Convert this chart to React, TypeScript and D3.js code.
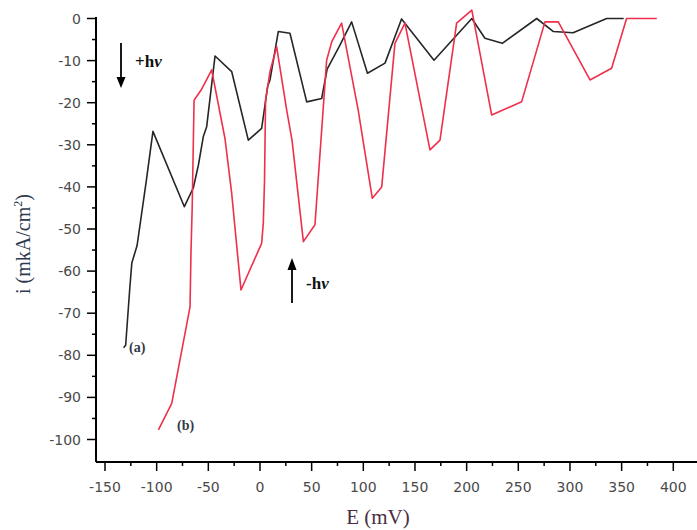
import * as d3 from "d3";

// curve (a) - black, E in mV, i in mkA/cm2
const curveA: [number, number][] = [
  [-132, -78.2], [-130, -77.6], [-126, -64], [-124, -58], [-119, -54], [-110, -38.5], [-103.6, -26.8],
  [-73.2, -44.7], [-64.5, -40.2], [-59.6, -34.8], [-54.9, -28.1], [-51.6, -25.7], [-43.5, -8.9],
  [-27.4, -12.6], [-11.3, -28.9], [1.6, -26.1], [7.5, -16], [9.7, -14.6], [17.7, -3.1],
  [29, -3.5], [45.2, -19.8], [59.7, -19], [65, -12], [77, -6.5], [88.7, -0.8],
  [104, -13], [121, -10.6], [137, -0.1], [168.4, -9.9], [205, 0], [217.7, -4.7],
  [234.5, -5.9], [267.8, 0], [284, -3.1], [303, -3.4], [335.5, 0], [352, 0],
];

// curve (b) - red
const curveB: [number, number][] = [
  [-98.3, -97.7], [-85.4, -91.4], [-67.7, -68.5], [-66.8, -55.7], [-65.6, -44.7], [-63.8, -19.4],
  [-57, -17], [-51.6, -14.5], [-46.8, -12.2], [-33.9, -28.5], [-27.4, -41.5], [-18.4, -64.5],
  [1.6, -53.4], [3.2, -48.6], [4.4, -38.4], [5.4, -19.4], [9.7, -12.6], [16.1, -6.7],
  [25.8, -21.7], [31, -28.9], [42, -53], [53.2, -49], [64.5, -9.9], [69.5, -5.5], [79, -1.1],
  [95, -21.7], [108.7, -42.7], [117.8, -40], [130.6, -5.9], [140.3, -1.1], [164.5, -31.2],
  [174.2, -28.9], [190.3, -1.1], [205, 2], [224.2, -22.9], [253.2, -19.8], [275.8, -0.8],
  [288.7, -0.8], [319.4, -14.6], [340.3, -11.8], [354.8, 0], [384, 0],
];

const xMajor = [-150, -100, -50, 0, 50, 100, 150, 200, 250, 300, 350, 400];
const xMinor = [-125, -75, -25, 25, 75, 125, 175, 225, 275, 325, 375];
const yMajor = [0, -10, -20, -30, -40, -50, -60, -70, -80, -90, -100];
const yMinor = [-5, -15, -25, -35, -45, -55, -65, -75, -85, -95];

const W = 697;
const H = 530;
const axisX = 96;
const axisY = 462;

export default function App() {
  const x = d3.scaleLinear().domain([-150, 400]).range([105, 673.3]);
  const y = d3.scaleLinear().domain([0, -100]).range([18.5, 439.5]);

  const line = d3.line<[number, number]>()
    .x(d => x(d[0]))
    .y(d => y(d[1]));

  const tickFont = "'DejaVu Sans', sans-serif";
  const serif = "'Liberation Serif', 'Times New Roman', serif";

  return (
    <svg width={W} height={H} style={{ position: "absolute", left: 0, top: 0, background: "#fff" }}>
      {/* curves */}
      <path d={line(curveA) ?? ""} fill="none" stroke="#262626" strokeWidth={1.6} strokeLinejoin="round" />
      <path d={line(curveB) ?? ""} fill="none" stroke="#ef2f4c" strokeWidth={1.6} strokeLinejoin="round" />

      {/* y axis */}
      <line x1={axisX} x2={axisX} y1={17} y2={axisY} stroke="#000" strokeWidth={2} />
      {yMajor.map(v => (
        <g key={"ym" + v}>
          <line x1={axisX - 9} x2={axisX} y1={y(v)} y2={y(v)} stroke="#000" strokeWidth={1.5} />
          <text x={81} y={y(v) + 5} textAnchor="end" fontFamily={tickFont} fontSize={14} fill="#4a4a4a">{v}</text>
        </g>
      ))}
      {yMinor.map(v => (
        <line key={"yn" + v} x1={axisX - 4} x2={axisX} y1={y(v)} y2={y(v)} stroke="#000" strokeWidth={1.5} />
      ))}

      {/* x axis */}
      <line x1={axisX} x2={W} y1={axisY} y2={axisY} stroke="#000" strokeWidth={1.8} />
      {xMajor.map(v => (
        <g key={"xm" + v}>
          <line x1={x(v)} x2={x(v)} y1={axisY} y2={axisY + 9} stroke="#000" strokeWidth={1.5} />
          <text x={x(v)} y={492} textAnchor="middle" fontFamily={tickFont} fontSize={14} fill="#4a4a4a">{v}</text>
        </g>
      ))}
      {xMinor.map(v => (
        <line key={"xn" + v} x1={x(v)} x2={x(v)} y1={axisY} y2={axisY + 4} stroke="#000" strokeWidth={1.5} />
      ))}

      {/* axis titles */}
      <text transform="translate(30,244) rotate(-90)" textAnchor="middle" fontFamily={serif} fontSize={20} fill="#2e3a50">
        i (mkA/cm<tspan dy={-8} fontSize={12}>2</tspan><tspan dy={8}>)</tspan>
      </text>
      <text x={378} y={524} textAnchor="middle" fontFamily={serif} fontSize={21} fill="#4a2d44">E (mV)</text>

      {/* annotations */}
      <line x1={121} x2={121} y1={43} y2={80} stroke="#000" strokeWidth={1.8} />
      <polygon points="116.5,77 125.5,77 121,88" fill="#000" />
      <text x={135} y={67} fontFamily={serif} fontSize={17} fontWeight="bold" fill="#111">
        +h<tspan fontStyle="italic">v</tspan>
      </text>

      <line x1={292} x2={292} y1={303} y2={266} stroke="#000" strokeWidth={1.8} />
      <polygon points="287.5,270 296.5,270 292,258" fill="#000" />
      <text x={306} y={289} fontFamily={serif} fontSize={17} fontWeight="bold" fill="#111">
        -h<tspan fontStyle="italic">v</tspan>
      </text>

      <text x={129} y={352} fontFamily={serif} fontSize={14} fontWeight="bold" fill="#333a48">(a)</text>
      <text x={177} y={430} fontFamily={serif} fontSize={14} fontWeight="bold" fill="#333a48">(b)</text>
    </svg>
  );
}
